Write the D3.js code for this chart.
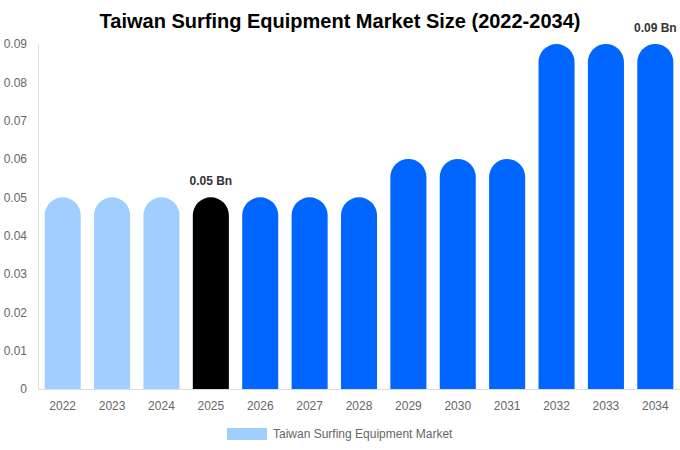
<html>
<head>
  <script src="https://d3js.org/d3.v7.min.js"></script>
  <style>
    body { margin: 0; font-family: "Liberation Sans", Arial, sans-serif; }
    .axis .domain { stroke: #ddd; }
    .axis line { display: none; }
    .axis text { fill: #666; font-size: 12px; font-family: "Liberation Sans", Arial, sans-serif; }
  </style>
</head>
<body>
  <svg id="chart" width="680" height="450"></svg>
  <script>
    const years = ["2022", "2023", "2024", "2025", "2026", "2027", "2028", "2029", "2030", "2031", "2032", "2033", "2034"];
    const values = [0.05, 0.05, 0.05, 0.05, 0.05, 0.05, 0.05, 0.06, 0.06, 0.06, 0.09, 0.09, 0.09];
    const yTicks = [0, 0.01, 0.02, 0.03, 0.04, 0.05, 0.06, 0.07, 0.08, 0.09];
    const labelled = { "2025": "0.05 Bn", "2034": "0.09 Bn" };

    const svg = d3.select("svg#chart");
    const margins = { top: 44, right: 0, bottom: 61, left: 38 };
    const width = +svg.attr("width");
    const height = +svg.attr("height");
    const chartWidth = width - margins.left - margins.right;
    const chartHeight = height - margins.top - margins.bottom;

    const xScale = d3.scaleBand().domain(years).range([0, chartWidth]).paddingInner(0.27).paddingOuter(0.135);
    const yScale = d3.scaleLinear().domain([0, 0.09]).range([chartHeight, 0]);

    const colorFor = (y) => {
      if (+y < 2025) return "#a0cfff";
      if (+y === 2025) return "#000000";
      return "#0066ff";
    };

    // title
    svg.append("text")
      .attr("x", width / 2)
      .attr("y", 28)
      .attr("text-anchor", "middle")
      .style("font-size", "20px")
      .style("font-weight", "bold")
      .text("Taiwan Surfing Equipment Market Size (2022-2034)");

    const chart = svg.append("g").attr("transform", `translate(${margins.left},${margins.top})`);

    chart.append("g")
      .attr("class", "axis")
      .call(d3.axisLeft(yScale).tickValues(yTicks).tickFormat(d => d === 0 ? "0" : d3.format(".2f")(d)).tickSize(0).tickPadding(11));

    chart.append("g")
      .attr("class", "axis")
      .attr("transform", `translate(0,${chartHeight})`)
      .call(d3.axisBottom(xScale).tickSize(0).tickPadding(12));

    // bars with rounded tops
    chart.selectAll("path.bar")
      .data(years.map((y, i) => ({ year: y, value: values[i] })))
      .join("path")
      .attr("class", "bar")
      .attr("fill", d => colorFor(d.year))
      .attr("d", d => {
        const x0 = xScale(d.year);
        const w = xScale.bandwidth();
        const r = w / 2;
        const top = yScale(d.value);
        const bottom = yScale(0);
        return `M${x0},${bottom} L${x0},${top + r} A${r},${r} 0 0 1 ${x0 + w},${top + r} L${x0 + w},${bottom} Z`;
      });

    chart.selectAll("text.val")
      .data(years.filter(y => labelled[y]))
      .join("text")
      .attr("class", "val")
      .attr("x", d => xScale(d) + xScale.bandwidth() / 2)
      .attr("y", d => yScale(values[years.indexOf(d)]) - 12)
      .attr("text-anchor", "middle")
      .style("font-size", "12px")
      .style("font-weight", "bold")
      .style("fill", "#333")
      .text(d => labelled[d]);

    // legend
    const legend = svg.append("g").attr("transform", "translate(227,428)");
    legend.append("rect").attr("width", 40).attr("height", 12).attr("fill", "#a0cfff");
    legend.append("text")
      .attr("x", 46)
      .attr("y", 10)
      .style("font-size", "12px")
      .style("fill", "#666")
      .text("Taiwan Surfing Equipment Market");
  </script>
</body>
</html>
